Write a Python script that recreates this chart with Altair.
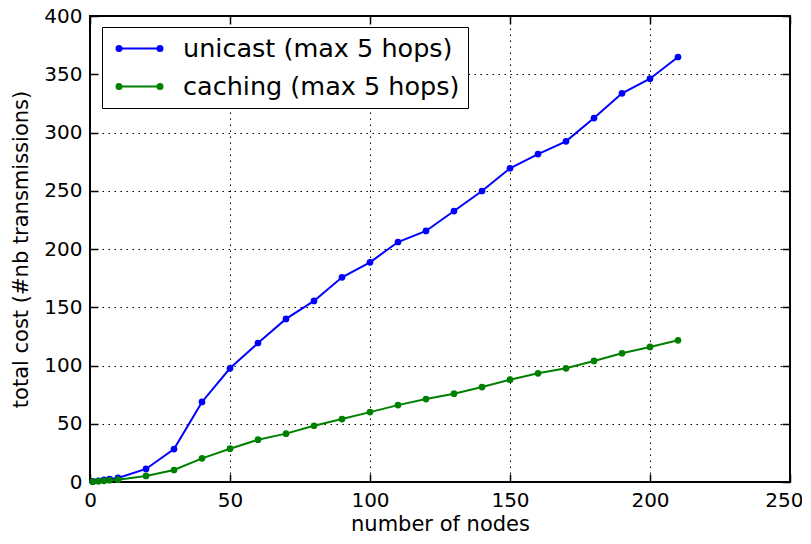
import altair as alt
import pandas as pd

nodes = [1, 3, 5, 7, 10, 20, 30, 40, 50, 60, 70, 80, 90, 100, 110, 120,
         130, 140, 150, 160, 170, 180, 190, 200, 210]
unicast = [0.5, 1.0, 1.8, 2.5, 3.5, 11.2, 28.3, 68.7, 97.6, 119.3, 140.0, 155.4,
           175.7, 188.6, 206.0, 215.5, 232.6, 249.8, 269.3, 281.5, 292.4, 312.4,
           333.6, 346.2, 364.8]
caching = [0.3, 0.7, 1.0, 1.5, 2.0, 5.2, 10.3, 20.3, 28.6, 36.3, 41.5, 48.3,
           54.0, 60.0, 66.0, 71.2, 75.8, 81.5, 87.8, 93.3, 97.6, 103.9, 110.5,
           115.9, 121.6]
series_names = ["unicast (max 5 hops)", "caching (max 5 hops)"]
series_colors = ["#0000ff", "#008000"]
x_ticks = [0, 50, 100, 150, 200, 250]
y_ticks = [0, 50, 100, 150, 200, 250, 300, 350, 400]

rows = []
for n, u, c in zip(nodes, unicast, caching):
    rows.append({"nodes": n, "cost": u, "series": series_names[0]})
    rows.append({"nodes": n, "cost": c, "series": series_names[1]})
df = pd.DataFrame(rows)

W, H = 700, 466
FONT = "DejaVu Sans"

xscale = alt.Scale(domain=[0, 250], nice=False, zero=False)
yscale = alt.Scale(domain=[0, 400], nice=False, zero=False)
cscale = alt.Scale(domain=series_names, range=series_colors)

# legend symbol: line with two dots (dots drawn as concentric stroked rings)
def ring(cx, r):
    return f"M{cx + r},0A{r},{r} 0 1,1 {cx - r},0A{r},{r} 0 1,1 {cx + r},0Z"

SYM_SIZE = 625          # symbol scale unit = sqrt(625)/2 = 12.5 px
half = 1.64             # half length of line sample in symbol units (~20.5 px)
sym = f"M{-half},0L{half},0"
for cx in (-half, half):
    for r in (0.08, 0.2):
        sym += ring(cx, r)

legend = alt.Legend(
    title=None, orient="none", legendX=12, legendY=11,
    symbolType=sym, symbolSize=SYM_SIZE, symbolStrokeWidth=2,
    symbolOffset=16,
    labelFont=FONT, labelFontSize=25.5, labelColor="black", labelOffset=30,
    padding=8, rowPadding=11, strokeColor="black", fillColor="white",
    cornerRadius=0, labelLimit=500,
)

LBL = dict(labelFont=FONT, labelFontSize=20, labelColor="black")
GRID = dict(gridColor="black", gridDash=[1.5, 4.5], gridWidth=1)

# bottom axis: 50..250 (last label pushed flush so it stays inside the page)
main_x_axis = alt.Axis(values=x_ticks[1:], title="number of nodes", grid=True,
                       ticks=False, tickSize=0, domain=False, labelPadding=8,
                       titleFont=FONT, titleFontSize=21, titleFontWeight="normal",
                       titleColor="black", titlePadding=3, labelFlush=True,
                       labelFlushOffset=13, **LBL, **GRID)
main_y_axis = alt.Axis(values=y_ticks, title="total cost (#nb transmissions)",
                       grid=True, ticks=False, tickSize=0, domain=False,
                       labelPadding=8, titleFont=FONT, titleFontSize=21,
                       titleFontWeight="normal", titleColor="black",
                       titlePadding=12, labelFlush=False, **LBL, **GRID)

base = alt.Chart(df)

lines = base.mark_line(strokeWidth=2).encode(
    x=alt.X("nodes:Q", scale=xscale, axis=main_x_axis),
    y=alt.Y("cost:Q", scale=yscale, axis=main_y_axis),
    color=alt.Color("series:N", scale=cscale, legend=legend,
                    sort=series_names),
)

points = base.mark_point(filled=True, size=45, opacity=1).encode(
    x=alt.X("nodes:Q", scale=xscale, axis=None),
    y=alt.Y("cost:Q", scale=yscale, axis=None),
    color=alt.Color("series:N", scale=cscale, legend=None),
)

# the "0" label of the x axis (centered, not flush)
zero_axis = alt.Axis(orient="bottom", values=x_ticks[:1], title=None, grid=False,
                     ticks=False, tickSize=0, domain=False, labelPadding=8,
                     labelFlush=False, **LBL)
zero_lbl = base.mark_point(opacity=0).encode(
    x=alt.X("nodes:Q", scale=xscale, axis=zero_axis),
    y=alt.Y("cost:Q", scale=yscale, axis=None),
)

def tick_axis(orient, offset, vals):
    return alt.Axis(orient=orient, offset=offset, values=vals, labels=False,
                    title=None, grid=False, domain=False, ticks=True,
                    tickSize=8, tickWidth=1.5, tickColor="black")

ticks_a = base.mark_point(opacity=0).encode(
    x=alt.X("nodes:Q", scale=xscale, axis=tick_axis("top", -H, x_ticks)),
    y=alt.Y("cost:Q", scale=yscale, axis=tick_axis("right", -W, y_ticks)),
)
ticks_b = base.mark_point(opacity=0).encode(
    x=alt.X("nodes:Q", scale=xscale, axis=tick_axis("bottom", -H, x_ticks)),
    y=alt.Y("cost:Q", scale=yscale, axis=tick_axis("left", -W, y_ticks)),
)

chart = alt.layer(lines, points, zero_lbl, ticks_a, ticks_b).resolve_axis(
    x="independent", y="independent"
).properties(
    width=W, height=H,
    autosize=alt.AutoSizeParams(type="none"),
    padding={"left": 82, "top": 8, "right": 12, "bottom": 54},
    background="white",
).configure_view(stroke="black", strokeWidth=2)

chart.save("out.html", embed_options={"renderer": "svg", "actions": False})
